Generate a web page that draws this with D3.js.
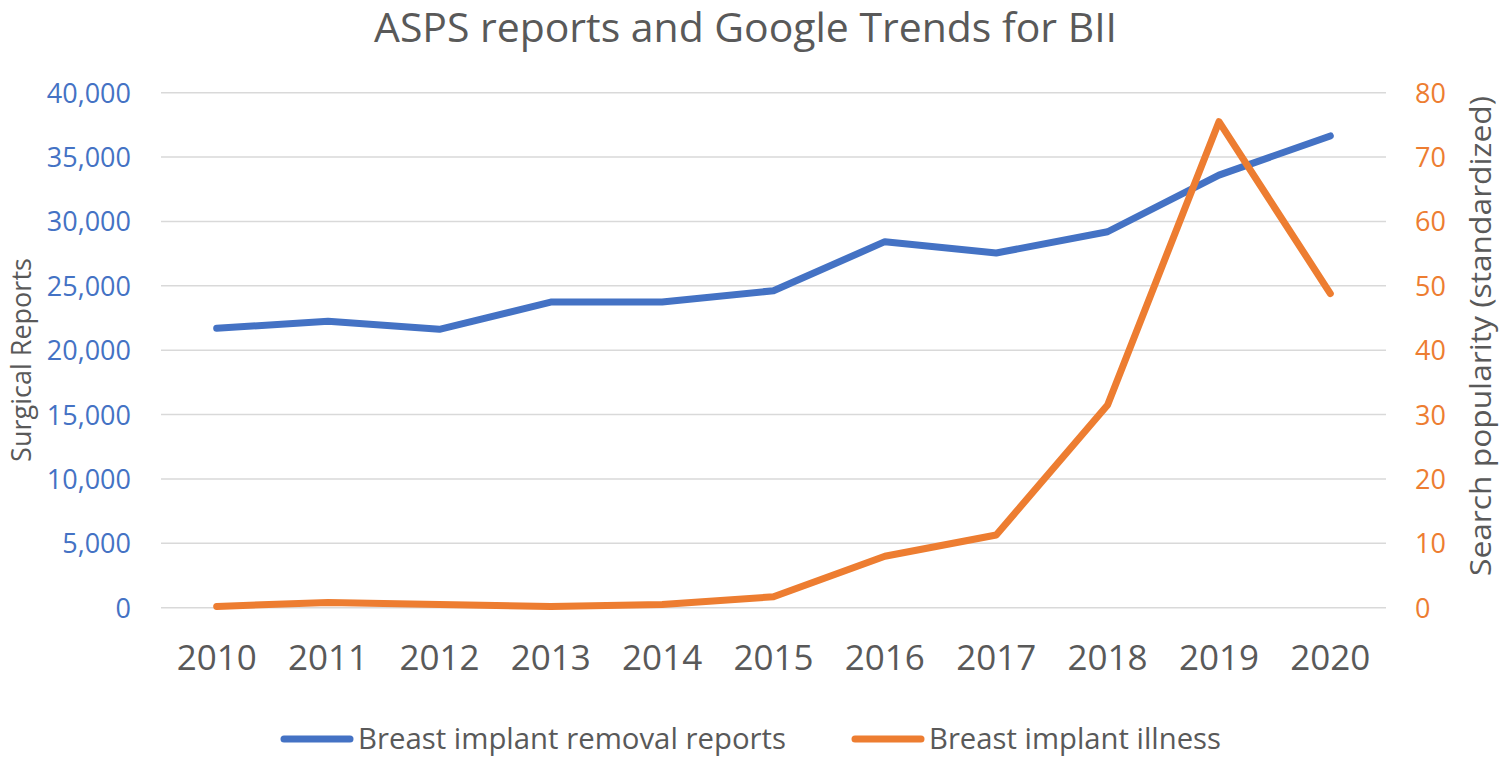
<!DOCTYPE html>
<html><head><meta charset="utf-8">
<script src="https://cdn.jsdelivr.net/npm/d3@7"></script>
<style>body{margin:0;background:#fff}svg{display:block}text{font-family:"Open Sans",sans-serif}</style>
</head><body>
<svg id="c" width="1504" height="757"></svg>
<script>
const years = ["2010","2011","2012","2013","2014","2015","2016","2017","2018","2019","2020"];
const removalReports = [21700, 22250, 21620, 23740, 23740, 24620, 28430, 27550, 29200, 33600, 36640];
const illnessSearch = [0.2, 0.8, 0.5, 0.2, 0.5, 1.7, 8.0, 11.3, 31.5, 75.5, 48.8];
const leftTicks = [0,5000,10000,15000,20000,25000,30000,35000,40000];
const rightTicks = [0,10,20,30,40,50,60,70,80];
const seriesNames = ["Breast implant removal reports","Breast implant illness"];

const BLUE="#4472C4", ORANGE="#ED7D31", GREY="#595959", GRID="#d9d9d9";
const svg = d3.select("#c");
const L=161, R=1386, T=92.7, B=607.7;

const x = d3.scaleBand().domain(years).range([L,R]);
const yL = d3.scaleLinear().domain([0,40000]).range([B,T]);
const yR = d3.scaleLinear().domain([0,80]).range([B,T]);

// title
svg.append("text").attr("x",374).attr("y",42)
  .attr("font-size",40).attr("fill",GREY).attr("textLength",743).attr("lengthAdjust","spacingAndGlyphs")
  .text("ASPS reports and Google Trends for BII");

// grid
svg.append("g").selectAll("line").data(leftTicks).join("line")
  .attr("x1",L).attr("x2",R).attr("y1",d=>yL(d)).attr("y2",d=>yL(d))
  .attr("stroke",GRID).attr("stroke-width",1.5);

// left axis
const la = svg.append("g").attr("transform",`translate(${L},0)`)
  .call(d3.axisLeft(yL).tickValues(leftTicks).tickFormat(d3.format(",")).tickSize(0).tickPadding(30));
la.select(".domain").remove();
la.selectAll("text").attr("font-size",27).attr("fill",BLUE).attr("font-family","Open Sans").attr("dy","0.35em");

// right axis
const ra = svg.append("g").attr("transform",`translate(${R},0)`)
  .call(d3.axisRight(yR).tickValues(rightTicks).tickSize(0).tickPadding(29));
ra.select(".domain").remove();
ra.selectAll("text").attr("font-size",27).attr("fill",ORANGE).attr("font-family","Open Sans").attr("dy","0.35em");

// bottom axis
const ba = svg.append("g").attr("transform",`translate(0,${B})`)
  .call(d3.axisBottom(x).tickSize(0).tickPadding(37));
ba.select(".domain").remove();
ba.selectAll("text").attr("font-size",35).attr("fill",GREY).attr("font-family","Open Sans").attr("dy","0.71em");

// axis titles
svg.append("text").attr("transform","translate(31,360) rotate(-90)").attr("text-anchor","middle")
  .attr("font-size",27).attr("fill",GREY).text("Surgical Reports");
svg.append("text").attr("transform","translate(1491,336) rotate(-90)").attr("text-anchor","middle")
  .attr("font-size",30).attr("fill",GREY).attr("textLength",480).attr("lengthAdjust","spacingAndGlyphs")
  .text("Search popularity (standardized)");

const cx = d => x(d)+x.bandwidth()/2;
const lineL = d3.line().x((d,i)=>cx(years[i])).y(d=>yL(d));
const lineR = d3.line().x((d,i)=>cx(years[i])).y(d=>yR(d));
svg.append("path").attr("d",lineL(removalReports)).attr("fill","none").attr("stroke",BLUE)
  .attr("stroke-width",7).attr("stroke-linejoin","round").attr("stroke-linecap","round");
svg.append("path").attr("d",lineR(illnessSearch)).attr("fill","none").attr("stroke",ORANGE)
  .attr("stroke-width",7).attr("stroke-linejoin","round").attr("stroke-linecap","round");

// legend
const leg = [{n:seriesNames[0],c:BLUE,x:284,w:428},{n:seriesNames[1],c:ORANGE,x:855,w:292}];
const lg = svg.append("g").selectAll("g").data(leg).join("g").attr("transform",d=>`translate(${d.x},739)`);
lg.append("line").attr("x1",0).attr("x2",66).attr("stroke",d=>d.c).attr("stroke-width",7).attr("stroke-linecap","round");
lg.append("text").attr("x",74).attr("dy","0.35em").attr("font-size",29).attr("fill",GREY)
  .attr("textLength",d=>d.w).attr("lengthAdjust","spacingAndGlyphs").text(d=>d.n);
</script>
</body></html>
